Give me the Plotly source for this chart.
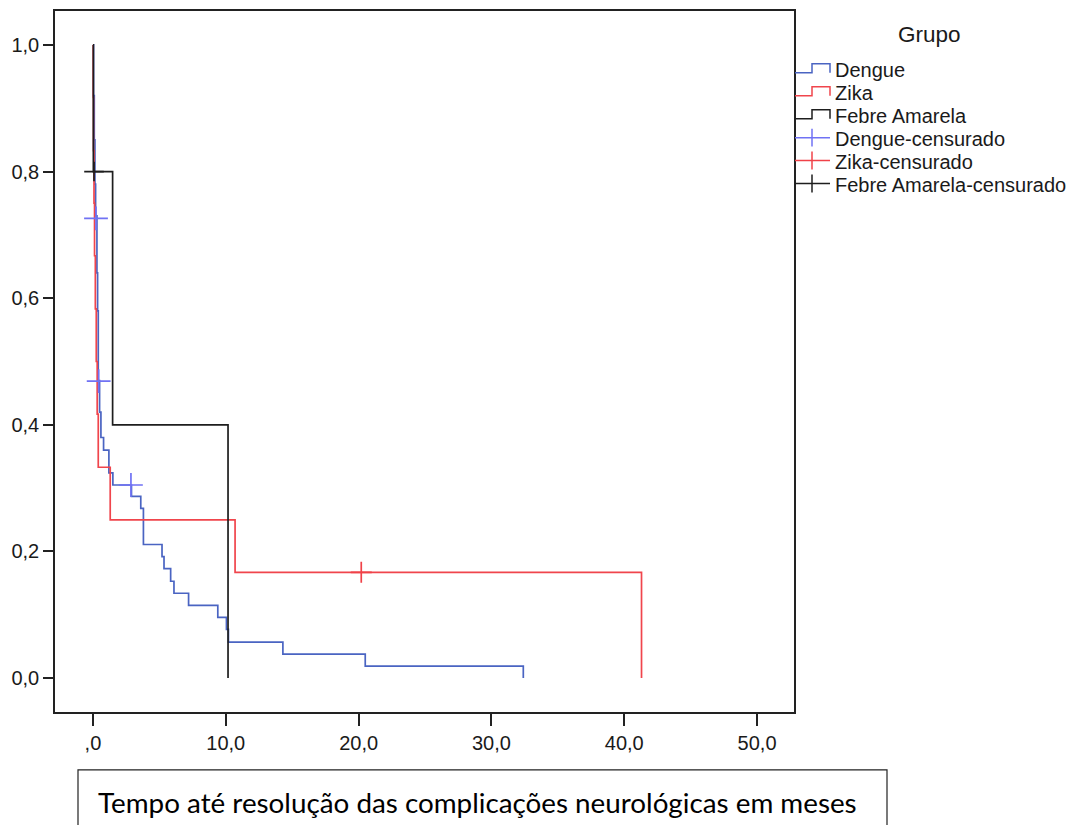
import plotly.graph_objects as go

# ---------------- data ----------------
dengue_t = [0, 0.05, 0.1, 0.15, 0.2, 0.3, 0.35, 0.4, 0.5, 0.6, 0.8, 1.2, 1.5, 2.9, 3.6, 3.8,
            5.2, 5.35, 5.85, 6.1, 7.2, 9.4, 10.05, 10.2, 14.3, 20.5, 32.4]
dengue_s = [1.0, 0.92, 0.85, 0.78, 0.73, 0.64, 0.58, 0.47, 0.42, 0.38, 0.36, 0.324, 0.305, 0.287,
            0.268, 0.211, 0.192, 0.173, 0.153, 0.134, 0.115, 0.096, 0.077, 0.057, 0.038, 0.019, 0.0]
dengue_cens_t = [0.23, 0.43, 2.86]
dengue_cens_s = [0.726, 0.469, 0.305]

zika_t = [0, 0.02, 0.04, 0.08, 0.12, 0.18, 0.25, 0.32, 0.4, 1.3, 10.7, 41.3]
zika_s = [1.0, 0.917, 0.833, 0.75, 0.667, 0.583, 0.5, 0.417, 0.333, 0.25, 0.167, 0.0]
zika_cens_t = [20.2]
zika_cens_s = [0.167]

febre_t = [0, 0.03, 1.48, 10.17]
febre_s = [1.0, 0.8, 0.4, 0.0]
febre_cens_t = [0.08]
febre_cens_s = [0.8]

x_ticks = [0, 10, 20, 30, 40, 50]
x_labels = [",0", "10,0", "20,0", "30,0", "40,0", "50,0"]
y_ticks = [0.0, 0.2, 0.4, 0.6, 0.8, 1.0]
y_labels = ["0,0", "0,2", "0,4", "0,6", "0,8", "1,0"]

legend_title = "Grupo"
legend_names = ["Dengue", "Zika", "Febre Amarela",
                "Dengue-censurado", "Zika-censurado", "Febre Amarela-censurado"]
x_title = "Tempo até resolução das complicações neurológicas em meses"

# ---------------- style ----------------
C_DENGUE = "#4a64c2"
C_ZIKA = "#f0454c"
C_FEBRE = "#1e1e1e"
C_DENGUE_C = "#7072f4"
C_ZIKA_C = "#f04248"
C_FEBRE_C = "#1e1e1e"
AX = "#222222"
FONT = "Liberation Sans, Arial, sans-serif"

W, H = 1070, 825
L, R, T, B = 55, 794, 9, 712  # plot area in pixels


def px(x):
    return (x - L) / (R - L)


def py(y):
    return (B - y) / (B - T)


fig = go.Figure()

for t, s, c, n in [(dengue_t, dengue_s, C_DENGUE, legend_names[0]),
                   (zika_t, zika_s, C_ZIKA, legend_names[1]),
                   (febre_t, febre_s, C_FEBRE, legend_names[2])]:
    fig.add_trace(go.Scatter(x=t, y=s, mode="lines", name=n, showlegend=False,
                             line=dict(color=c, width=1.7, shape="hv"), hoverinfo="skip"))

for t, s, c, n, sz in [(dengue_cens_t, dengue_cens_s, C_DENGUE_C, legend_names[3], 17),
                       (zika_cens_t, zika_cens_s, C_ZIKA_C, legend_names[4], 15),
                       (febre_cens_t, febre_cens_s, C_FEBRE_C, legend_names[5], 14)]:
    fig.add_trace(go.Scatter(x=t, y=s, mode="markers", name=n, showlegend=False,
                             marker=dict(symbol="cross-thin", size=sz,
                                         line=dict(color=c, width=1.7)),
                             hoverinfo="skip"))

shapes = []
annotations = []

# custom legend (SPSS style)
ys = [68, 91, 114, 137, 160, 183]
cols = [C_DENGUE, C_ZIKA, C_FEBRE, C_DENGUE_C, C_ZIKA_C, C_FEBRE_C]
for i, (name, c, yc) in enumerate(zip(legend_names, cols, ys)):
    if i < 3:
        yb, yt = yc + 3, yc - 6
        path = (f"M {px(795)},{py(yb)} L {px(812)},{py(yb)} L {px(812)},{py(yt)} "
                f"L {px(830)},{py(yt)} L {px(830)},{py(yb)}")
        shapes.append(dict(type="path", xref="paper", yref="paper", path=path,
                           line=dict(color=c, width=1.5)))
    else:
        yl = yc - 1
        shapes.append(dict(type="line", xref="paper", yref="paper",
                           x0=px(795), x1=px(830), y0=py(yl), y1=py(yl),
                           line=dict(color=c, width=1.5)))
        shapes.append(dict(type="line", xref="paper", yref="paper",
                           x0=px(812), x1=px(812), y0=py(yl - 9), y1=py(yl + 9),
                           line=dict(color=c, width=1.5)))
    annotations.append(dict(text=name, xref="paper", yref="paper", x=px(833), y=py(yc),
                            xanchor="left", yanchor="middle", showarrow=False,
                            font=dict(family=FONT, size=20, color="#1a1a1a")))

annotations.append(dict(text=legend_title, xref="paper", yref="paper", x=px(929), y=py(33),
                        xanchor="center", yanchor="middle", showarrow=False,
                        font=dict(family=FONT, size=22.5, color="#1a1a1a")))

# bottom text box
shapes.append(dict(type="rect", xref="paper", yref="paper",
                   x0=px(78), x1=px(887), y0=py(770), y1=py(845),
                   line=dict(color="#222222", width=1.2), fillcolor="rgba(0,0,0,0)"))
annotations.append(dict(text=x_title, xref="paper", yref="paper", x=px(477), y=py(803),
                        xanchor="center", yanchor="middle", showarrow=False,
                        font=dict(family="Lato, Carlito, Calibri, sans-serif", size=27.8,
                                  color="#000000")))

fig.update_layout(
    width=W, height=H,
    margin=dict(l=L, r=W - R, t=T, b=H - B, pad=0),
    paper_bgcolor="white", plot_bgcolor="white",
    showlegend=False,
    shapes=shapes, annotations=annotations,
    font=dict(family=FONT, size=20, color="#1a1a1a"),
)

fig.update_xaxes(range=[-2.857, 52.78], tickvals=x_ticks, ticktext=x_labels,
                 showgrid=False, zeroline=False, showline=True, mirror=True,
                 linecolor=AX, linewidth=1.5, ticks="outside", ticklen=12,
                 tickwidth=1.5, tickcolor=AX, tickfont=dict(family=FONT, size=20))
fig.update_yaxes(range=[-0.0535, 1.0535], tickvals=y_ticks, ticktext=y_labels,
                 showgrid=False, zeroline=False, showline=True, mirror=True,
                 linecolor=AX, linewidth=1.5, ticks="outside", ticklen=10,
                 tickwidth=1.5, tickcolor=AX, tickfont=dict(family=FONT, size=20))

fig.write_html("out.html", config={"displayModeBar": False},
               post_script="document.body.style.margin='0px';")
